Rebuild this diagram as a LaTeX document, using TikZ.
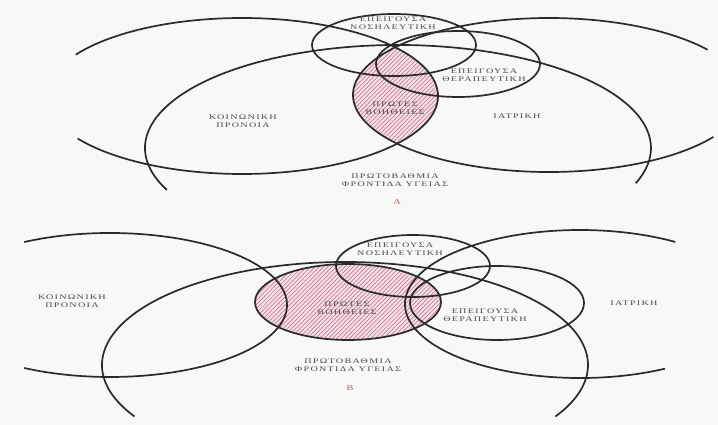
\documentclass[tikz,border=0pt]{standalone}
\usepackage{fontspec}
\setmainfont{Liberation Serif}
\newfontfamily\lblfont[FakeStretch=1.45,LetterSpace=18]{Liberation Serif}
\usetikzlibrary{patterns.meta}
\definecolor{ink}{HTML}{2A2A2A}
\definecolor{txt}{HTML}{4A4A4A}
\definecolor{hatchbg}{HTML}{F5E1E8}
\definecolor{hatchln}{HTML}{C77A95}
\definecolor{redlbl}{HTML}{D05A6E}
\definecolor{paper}{HTML}{F8F8F6}
\begin{document}
\begin{tikzpicture}[x=1pt,y=-1pt,
  curve/.style={draw=ink, line width=1.7pt},
  lbl/.style={text=txt, font=\lblfont\fontsize{7}{7.8}\selectfont, align=center, inner sep=0pt},
  panel/.style={text=redlbl, font=\lblfont\fontsize{7.5}{8}\selectfont, inner sep=0pt},
  hatch/.style={fill=hatchbg, postaction={pattern={Lines[angle=45,distance=3pt,line width=0.7pt]}, pattern color=hatchln}}]
\fill[paper] (0,0) rectangle (718,425);
\useasboundingbox (0,0) rectangle (718,425);

% ===== Panel A =====
\begin{scope}
  \clip (242,96) ellipse [x radius=196, y radius=78];
  \path[hatch] (549,95) ellipse [x radius=196, y radius=77];
\end{scope}
\draw[curve] (242,96) ++(212:196 and 78) arc[start angle=212, end angle=507, x radius=196, y radius=78];
\draw[curve] (549,95) ++(33:196 and 77) arc[start angle=33, end angle=324, x radius=196, y radius=77];
\draw[curve] (398,148) ++(156:253 and 103) arc[start angle=156, end angle=380, x radius=253, y radius=103];
\draw[curve] (394,45) ellipse [x radius=82, y radius=31];
\draw[curve] (458,64) ellipse [x radius=82, y radius=33];

\node[lbl] (aNos) at (393,23.5) {ΕΠΕΙΓΟΥΣΑ\\ΝΟΣΗΛΕΥΤΙΚΗ};
\node[lbl] (aTher) at (484,75.5) {ΕΠΕΙΓΟΥΣΑ\\ΘΕΡΑΠΕΥΤΙΚΗ};
\node[lbl] (aFirst) at (395,108) {ΠΡΩΤΕΣ\\ΒΟΗΘΕΙΕΣ};
\node[lbl] (aSoc) at (243,121) {ΚΟΙΝΩΝΙΚΗ\\ΠΡΟΝΟΙΑ};
\node[lbl] (aMed) at (517,116) {ΙΑΤΡΙΚΗ};
\node[lbl] (aPHC) at (395,180) {ΠΡΩΤΟΒΑΘΜΙΑ\\ΦΡΟΝΤΙΔΑ ΥΓΕΙΑΣ};
\node[panel] (aLbl) at (397,202) {Α};

% ===== Panel B =====
\path[hatch] (348,302) ellipse [x radius=93, y radius=38];
\draw[curve] (348,302) ellipse [x radius=93, y radius=38];
\draw[curve] (110,305) ++(241:177 and 72) arc[start angle=241, end angle=479, x radius=177, y radius=72];
\draw[curve] (580,304) ++(61:175 and 74) arc[start angle=61, end angle=303, x radius=175, y radius=74];
\draw[curve] (345,365) ++(150:243 and 103) arc[start angle=150, end angle=390, x radius=243, y radius=103];
\draw[curve] (413,266) ellipse [x radius=77, y radius=31];
\draw[curve] (497,303) ellipse [x radius=87, y radius=37];

\node[lbl] (bNos) at (400,249) {ΕΠΕΙΓΟΥΣΑ\\ΝΟΣΗΛΕΥΤΙΚΗ};
\node[lbl] (bTher) at (485,315) {ΕΠΕΙΓΟΥΣΑ\\ΘΕΡΑΠΕΥΤΙΚΗ};
\node[lbl] (bFirst) at (347,308) {ΠΡΩΤΕΣ\\ΒΟΗΘΕΙΕΣ};
\node[lbl] (bSoc) at (72,301) {ΚΟΙΝΩΝΙΚΗ\\ΠΡΟΝΟΙΑ};
\node[lbl] (bMed) at (634,303) {ΙΑΤΡΙΚΗ};
\node[lbl] (bPHC) at (348,365.5) {ΠΡΩΤΟΒΑΘΜΙΑ\\ΦΡΟΝΤΙΔΑ ΥΓΕΙΑΣ};
\node[panel] (bLbl) at (350,388) {Β};
\end{tikzpicture}
\end{document}
